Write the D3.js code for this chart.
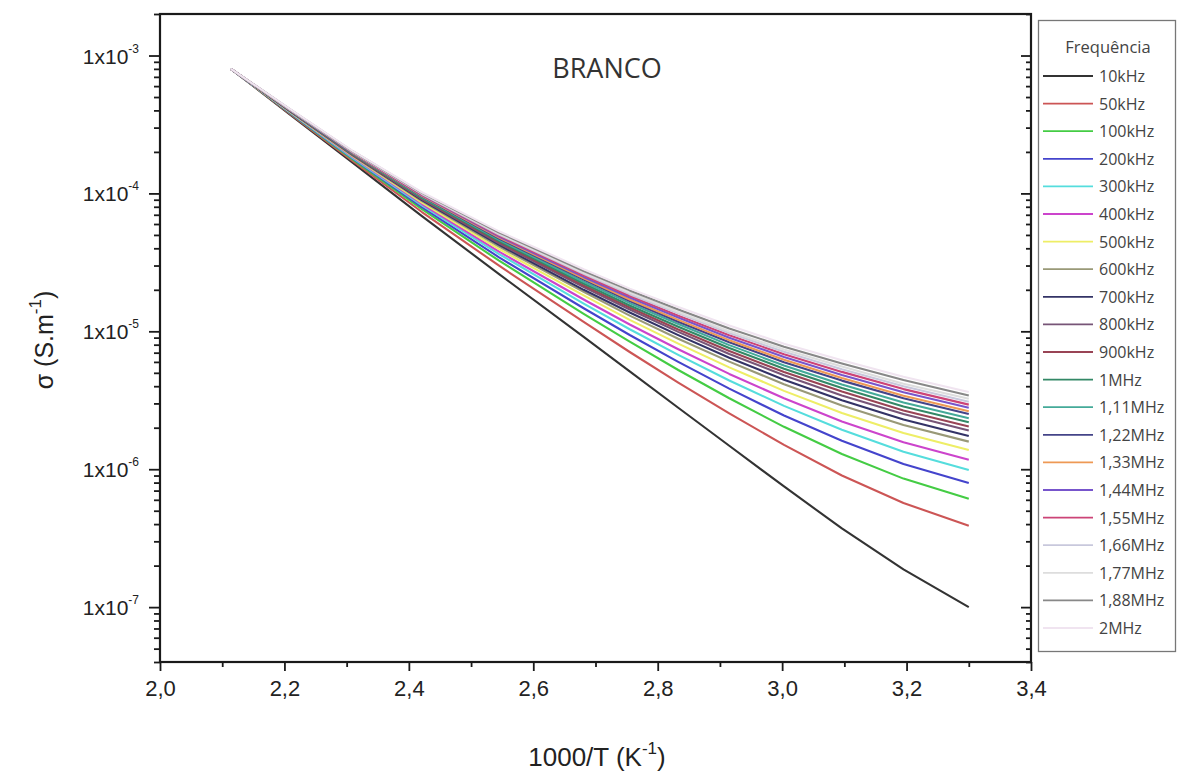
<!DOCTYPE html>
<html><head><meta charset="utf-8">
<script src="https://cdn.jsdelivr.net/npm/d3@7"></script>
<style>body{margin:0;background:#fff}</style>
</head><body>
<svg id="chart" width="1179" height="774"></svg>
<script>
// ---- data ----
const invT = [2.114, 2.208, 2.309, 2.421, 2.545, 2.681, 2.755, 2.833, 2.915, 3.003, 3.096, 3.195, 3.300];
const frequencies = ["10kHz","50kHz","100kHz","200kHz","300kHz","400kHz","500kHz","600kHz","700kHz","800kHz","900kHz","1MHz","1,11MHz","1,22MHz","1,33MHz","1,44MHz","1,55MHz","1,66MHz","1,77MHz","1,88MHz","2MHz"];
const colors = ["#333333","#cc5555","#44cc44","#4444cc","#55dddd","#cc44cc","#eeee66","#999977","#333366","#775577","#994455","#338866","#44aa99","#444488","#ee9955","#7755cc","#cc4477","#c8c8dc","#dddddd","#888888","#f0e4f0"];

const s10kHz  = [8.0e-4,3.76e-4,1.68e-4,6.84e-5,2.60e-5,9.12e-6,5.13e-6,2.79e-6,1.48e-6,7.50e-7,3.72e-7,1.88e-7,1.00e-7];
const s50kHz  = [8.0e-4,3.81e-4,1.73e-4,7.33e-5,2.99e-5,1.17e-5,7.08e-6,4.25e-6,2.54e-6,1.50e-6,9.00e-7,5.69e-7,3.89e-7];
const s100kHz = [8.0e-4,3.85e-4,1.77e-4,7.69e-5,3.25e-5,1.34e-5,8.41e-6,5.24e-6,3.27e-6,2.03e-6,1.29e-6,8.55e-7,6.10e-7];
const s200kHz = [8.0e-4,3.87e-4,1.80e-4,7.94e-5,3.44e-5,1.47e-5,9.40e-6,6.01e-6,3.84e-6,2.45e-6,1.61e-6,1.09e-6,7.94e-7];
const s300kHz = [8.0e-4,3.90e-4,1.82e-4,8.18e-5,3.63e-5,1.59e-5,1.035e-5,6.75e-6,4.40e-6,2.88e-6,1.93e-6,1.34e-6,9.86e-7];
const s400kHz = [8.0e-4,3.93e-4,1.85e-4,8.38e-5,3.78e-5,1.70e-5,1.12e-5,7.41e-6,4.91e-6,3.27e-6,2.22e-6,1.57e-6,1.17e-6];
const s500kHz = [8.0e-4,3.94e-4,1.87e-4,8.59e-5,3.95e-5,1.82e-5,1.21e-5,8.15e-6,5.48e-6,3.70e-6,2.56e-6,1.83e-6,1.38e-6];
const s600kHz = [8.0e-4,3.97e-4,1.89e-4,8.79e-5,4.11e-5,1.93e-5,1.30e-5,8.83e-6,6.03e-6,4.13e-6,2.90e-6,2.09e-6,1.585e-6];
const s700kHz = [8.0e-4,3.98e-4,1.91e-4,8.93e-5,4.23e-5,2.00e-5,1.37e-5,9.38e-6,6.44e-6,4.46e-6,3.16e-6,2.29e-6,1.74e-6];
const s800kHz = [8.0e-4,4.00e-4,1.92e-4,9.08e-5,4.34e-5,2.09e-5,1.44e-5,9.91e-6,6.85e-6,4.80e-6,3.43e-6,2.51e-6,1.91e-6];
const s900kHz = [8.0e-4,4.01e-4,1.93e-4,9.18e-5,4.43e-5,2.15e-5,1.49e-5,1.03e-5,7.21e-6,5.07e-6,3.66e-6,2.67e-6,2.04e-6];
const s1MHz   = [8.0e-4,4.03e-4,1.95e-4,9.29e-5,4.52e-5,2.22e-5,1.54e-5,1.08e-5,7.57e-6,5.35e-6,3.88e-6,2.85e-6,2.19e-6];
const s1_11MHz= [8.0e-4,4.04e-4,1.954e-4,9.40e-5,4.61e-5,2.29e-5,1.60e-5,1.13e-5,7.94e-6,5.66e-6,4.12e-6,3.05e-6,2.34e-6];
const s1_22MHz= [8.0e-4,4.05e-4,1.97e-4,9.53e-5,4.71e-5,2.37e-5,1.66e-5,1.175e-5,8.34e-6,5.97e-6,4.39e-6,3.27e-6,2.51e-6];
const s1_33MHz= [8.0e-4,4.06e-4,1.98e-4,9.62e-5,4.78e-5,2.42e-5,1.70e-5,1.21e-5,8.63e-6,6.22e-6,4.59e-6,3.41e-6,2.63e-6];
const s1_44MHz= [8.0e-4,4.07e-4,1.99e-4,9.71e-5,4.86e-5,2.48e-5,1.76e-5,1.26e-5,8.99e-6,6.52e-6,4.83e-6,3.61e-6,2.79e-6];
const s1_55MHz= [8.0e-4,4.07e-4,2.00e-4,9.82e-5,4.95e-5,2.55e-5,1.81e-5,1.30e-5,9.38e-6,6.82e-6,5.08e-6,3.81e-6,2.94e-6];
const s1_66MHz= [8.0e-4,4.08e-4,2.01e-4,9.91e-5,5.04e-5,2.61e-5,1.86e-5,1.35e-5,9.72e-6,7.10e-6,5.31e-6,4.00e-6,3.09e-6];
const s1_77MHz= [8.0e-4,4.09e-4,2.02e-4,1.00e-4,5.11e-5,2.66e-5,1.91e-5,1.38e-5,1.00e-5,7.38e-6,5.55e-6,4.17e-6,3.24e-6];
const s1_88MHz= [8.0e-4,4.11e-4,2.03e-4,1.01e-4,5.21e-5,2.74e-5,1.98e-5,1.44e-5,1.05e-5,7.74e-6,5.85e-6,4.43e-6,3.43e-6];
const s2MHz   = [8.0e-4,4.12e-4,2.04e-4,1.02e-4,5.31e-5,2.82e-5,2.04e-5,1.50e-5,1.10e-5,8.13e-6,6.17e-6,4.68e-6,3.63e-6];

const seriesValues = [s10kHz,s50kHz,s100kHz,s200kHz,s300kHz,s400kHz,s500kHz,s600kHz,s700kHz,s800kHz,s900kHz,s1MHz,s1_11MHz,s1_22MHz,s1_33MHz,s1_44MHz,s1_55MHz,s1_66MHz,s1_77MHz,s1_88MHz,s2MHz];

const xMajorTicks = [2.0,2.2,2.4,2.6,2.8,3.0,3.2,3.4];
const xMinorTicks = [2.1,2.3,2.5,2.7,2.9,3.1,3.3];
const yMajorTicks = [1e-3,1e-4,1e-5,1e-6,1e-7];
const yMajorExps  = ["-3","-4","-5","-6","-7"];

// ---- chart ----
const svg = d3.select("#chart");
const L=160, R=1031, T=14, B=662;
const x = d3.scaleLinear().domain([2.0,3.4]).range([L,R]);
const y = d3.scaleLog().domain([4e-8,2e-3]).range([B,T]);

const yMinor = [];
for (let e=-8; e<=-3; e++) for (let k=2;k<=9;k++){ const v=k*Math.pow(10,e); if(v>=4e-8 && v<=2e-3) yMinor.push(v); }

const axisColor = "#1a1a1a";
const numFont = "'Liberation Sans Narrow', 'Liberation Sans', Arial, sans-serif";
function styleAxis(g){ g.select(".domain").remove(); g.selectAll("line").attr("stroke",axisColor).attr("stroke-width",1.8); }

// bottom axis
svg.append("g").attr("transform",`translate(0,${B})`)
  .call(d3.axisBottom(x).tickValues(xMajorTicks).tickSize(9).tickPadding(9).tickFormat(d=>d.toFixed(1).replace(".",",")))
  .call(styleAxis)
  .call(g=>g.selectAll("text").attr("font-family",numFont).attr("font-size",22).attr("fill","#222"));
svg.append("g").attr("transform",`translate(0,${B})`)
  .call(d3.axisBottom(x).tickValues(xMinorTicks).tickSize(5).tickFormat(""))
  .call(styleAxis);

// left axis
svg.append("g").attr("transform",`translate(${L},0)`)
  .call(d3.axisLeft(y).tickValues(yMajorTicks).tickSize(11).tickFormat(""))
  .call(styleAxis);
svg.append("g").attr("transform",`translate(${L},0)`)
  .call(d3.axisLeft(y).tickValues(yMinor).tickSize(6).tickFormat(""))
  .call(styleAxis);
// right axis (inward ticks)
svg.append("g").attr("transform",`translate(${R},0)`)
  .call(d3.axisLeft(y).tickValues(yMajorTicks).tickSize(10).tickFormat(""))
  .call(styleAxis);
svg.append("g").attr("transform",`translate(${R},0)`)
  .call(d3.axisLeft(y).tickValues(yMinor).tickSize(5).tickFormat(""))
  .call(styleAxis);

// y tick labels with superscripts
const yl = svg.append("g").attr("font-family","Liberation Sans, Arial, sans-serif").attr("fill","#222");
yMajorTicks.forEach((v,i)=>{
  const t = yl.append("text").attr("x",139).attr("y",y(v)+8).attr("text-anchor","end").attr("font-size",21);
  t.append("tspan").text("1x10");
  t.append("tspan").attr("font-size",12).attr("dy",-11).text(yMajorExps[i]);
});

// frame
svg.append("rect").attr("x",L).attr("y",T).attr("width",R-L).attr("height",B-T)
  .attr("fill","none").attr("stroke",axisColor).attr("stroke-width",2.2);

// lines
const line = d3.line().x((d,i)=>x(invT[i])).y(d=>y(d));
svg.append("g").selectAll("path").data(seriesValues).join("path")
  .attr("d",line).attr("fill","none")
  .attr("stroke",(d,i)=>colors[i]).attr("stroke-width",2.1).attr("stroke-linejoin","round");

// title in plot
svg.append("text").attr("x",607).attr("y",78).attr("text-anchor","middle")
  .attr("font-family","Open Sans, Noto Sans, sans-serif").attr("font-size",27).attr("fill","#333").text("BRANCO");

// axis titles
const xt = svg.append("text").attr("x",597).attr("y",766).attr("text-anchor","middle")
  .attr("font-family",numFont).attr("font-size",26).attr("fill","#222");
xt.append("tspan").text("1000/T (K");
xt.append("tspan").attr("font-size",17).attr("dy",-12).text("-1");
xt.append("tspan").attr("dy",12).text(")");

const yt = svg.append("text").attr("transform","translate(53,340) rotate(-90)").attr("text-anchor","middle")
  .attr("font-family","Liberation Sans, Arial, sans-serif").attr("font-size",25).attr("fill","#222");
yt.append("tspan").text("σ (S.m");
yt.append("tspan").attr("font-size",17).attr("dy",-12).text("-1");
yt.append("tspan").attr("dy",12).text(")");

// legend
const lg = svg.append("g");
lg.append("rect").attr("x",1038.5).attr("y",20.5).attr("width",137).attr("height",631)
  .attr("fill","#fff").attr("stroke","#777").attr("stroke-width",1.3);
lg.append("text").attr("x",1108).attr("y",53).attr("text-anchor","middle")
  .attr("font-family","Open Sans, Noto Sans, sans-serif").attr("font-size",16.5).attr("fill","#444").text("Frequência");
const ly = d3.scaleLinear().domain([0,20]).range([76,628]);
frequencies.forEach((f,i)=>{
  lg.append("line").attr("x1",1043).attr("x2",1093).attr("y1",ly(i)).attr("y2",ly(i))
    .attr("stroke",colors[i]).attr("stroke-width",1.8);
  lg.append("text").attr("x",1099).attr("y",ly(i)+6).attr("font-family","Open Sans, Noto Sans, sans-serif")
    .attr("font-size",16).attr("fill","#444").text(f);
});
</script>
</body></html>
